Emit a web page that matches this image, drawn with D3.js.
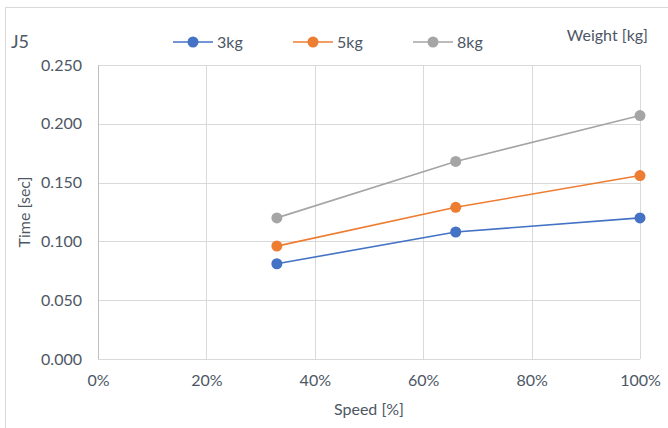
<!DOCTYPE html>
<html><head><meta charset="utf-8">
<script src="https://cdn.jsdelivr.net/npm/d3@7"></script>
<style>body{margin:0;background:#fff}svg{display:block}text{font-family:Lato,"Open Sans",sans-serif;fill:#4D5765}</style>
</head><body><svg id="c" width="668" height="428"></svg>
<script>
const speeds = [0.33, 0.66, 1.0];
const seriesNames = ["3kg", "5kg", "8kg"];
const values3kg = [0.081, 0.108, 0.120];
const values5kg = [0.096, 0.129, 0.156];
const values8kg = [0.120, 0.168, 0.207];
const colors = ["#4472C4", "#ED7D31", "#A5A5A5"];
const yTicks = [0, 0.05, 0.10, 0.15, 0.20, 0.25];
const xTicks = [0, 0.2, 0.4, 0.6, 0.8, 1.0];
const allSeries = [values3kg, values5kg, values8kg];
const txt = "#4D5765";
const ff = "Lato,'Open Sans',sans-serif";

const svg = d3.select("#c");
svg.append("rect").attr("x",5.5).attr("y",7.5).attr("width",700).attr("height",500)
  .attr("fill","#fff").attr("stroke","#D9D9D9");

const x = d3.scaleLinear().domain([0,1]).range([98,640]);
const y = d3.scaleLinear().domain([0,0.25]).range([359,65]);

svg.append("g").selectAll("line").data(yTicks).join("line")
  .attr("x1",x(0)).attr("x2",x(1)).attr("y1",d=>Math.round(y(d))+0.5).attr("y2",d=>Math.round(y(d))+0.5)
  .attr("stroke","#D9D9D9");
svg.append("g").selectAll("line").data(xTicks).join("line")
  .attr("y1",y(0)).attr("y2",y(0.25)).attr("x1",d=>Math.round(x(d))+0.5).attr("x2",d=>Math.round(x(d))+0.5)
  .attr("stroke","#D9D9D9");
svg.append("line").attr("x1",98.5).attr("x2",98.5).attr("y1",y(0)).attr("y2",y(0.25)).attr("stroke","#BFBFBF");

const yAxis = d3.axisLeft(y).tickValues(yTicks).tickFormat(d3.format(".3f")).tickSize(0).tickPadding(16);
const gy = svg.append("g").attr("transform","translate(98,0)").call(yAxis);
gy.select(".domain").remove();
gy.selectAll("text").attr("font-size",16).style("font-family",ff).attr("fill",txt);

const xAxis = d3.axisBottom(x).tickValues(xTicks).tickFormat(d3.format(".0%")).tickSize(0).tickPadding(16);
const gx = svg.append("g").attr("transform","translate(0,359)").call(xAxis);
gx.select(".domain").remove();
gx.selectAll("text").attr("font-size",16).style("font-family",ff).attr("fill",txt);

svg.append("text").attr("x",369).attr("y",415).attr("text-anchor","middle").attr("font-size",16).text("Speed [%]");
svg.append("text").attr("transform","translate(30,212) rotate(-90)").attr("text-anchor","middle").attr("font-size",16).text("Time [sec]");
svg.append("text").attr("x",11).attr("y",48).attr("font-size",18).text("J5");
svg.append("text").attr("x",648).attr("y",41).attr("text-anchor","end").attr("font-size",16).text("Weight [kg]");

const line = d3.line().x((d,i)=>x(speeds[i])).y(d=>y(d));
allSeries.forEach((vals,k)=>{
  svg.append("path").datum(vals).attr("d",line).attr("fill","none").attr("stroke",colors[k]).attr("stroke-width",1.6);
  svg.append("g").selectAll("circle").data(vals).join("circle")
    .attr("cx",(d,i)=>x(speeds[i])).attr("cy",d=>y(d)).attr("r",5.5).attr("fill",colors[k]);
});

const lg = svg.append("g");
seriesNames.forEach((n,k)=>{
  const lx = 173 + k*120;
  lg.append("line").attr("x1",lx).attr("x2",lx+40).attr("y1",42).attr("y2",42).attr("stroke",colors[k]).attr("stroke-width",1.6);
  lg.append("circle").attr("cx",lx+20).attr("cy",42).attr("r",5.5).attr("fill",colors[k]);
  lg.append("text").attr("x",lx+44).attr("y",48).attr("font-size",16).text(n);
});
</script></body></html>
